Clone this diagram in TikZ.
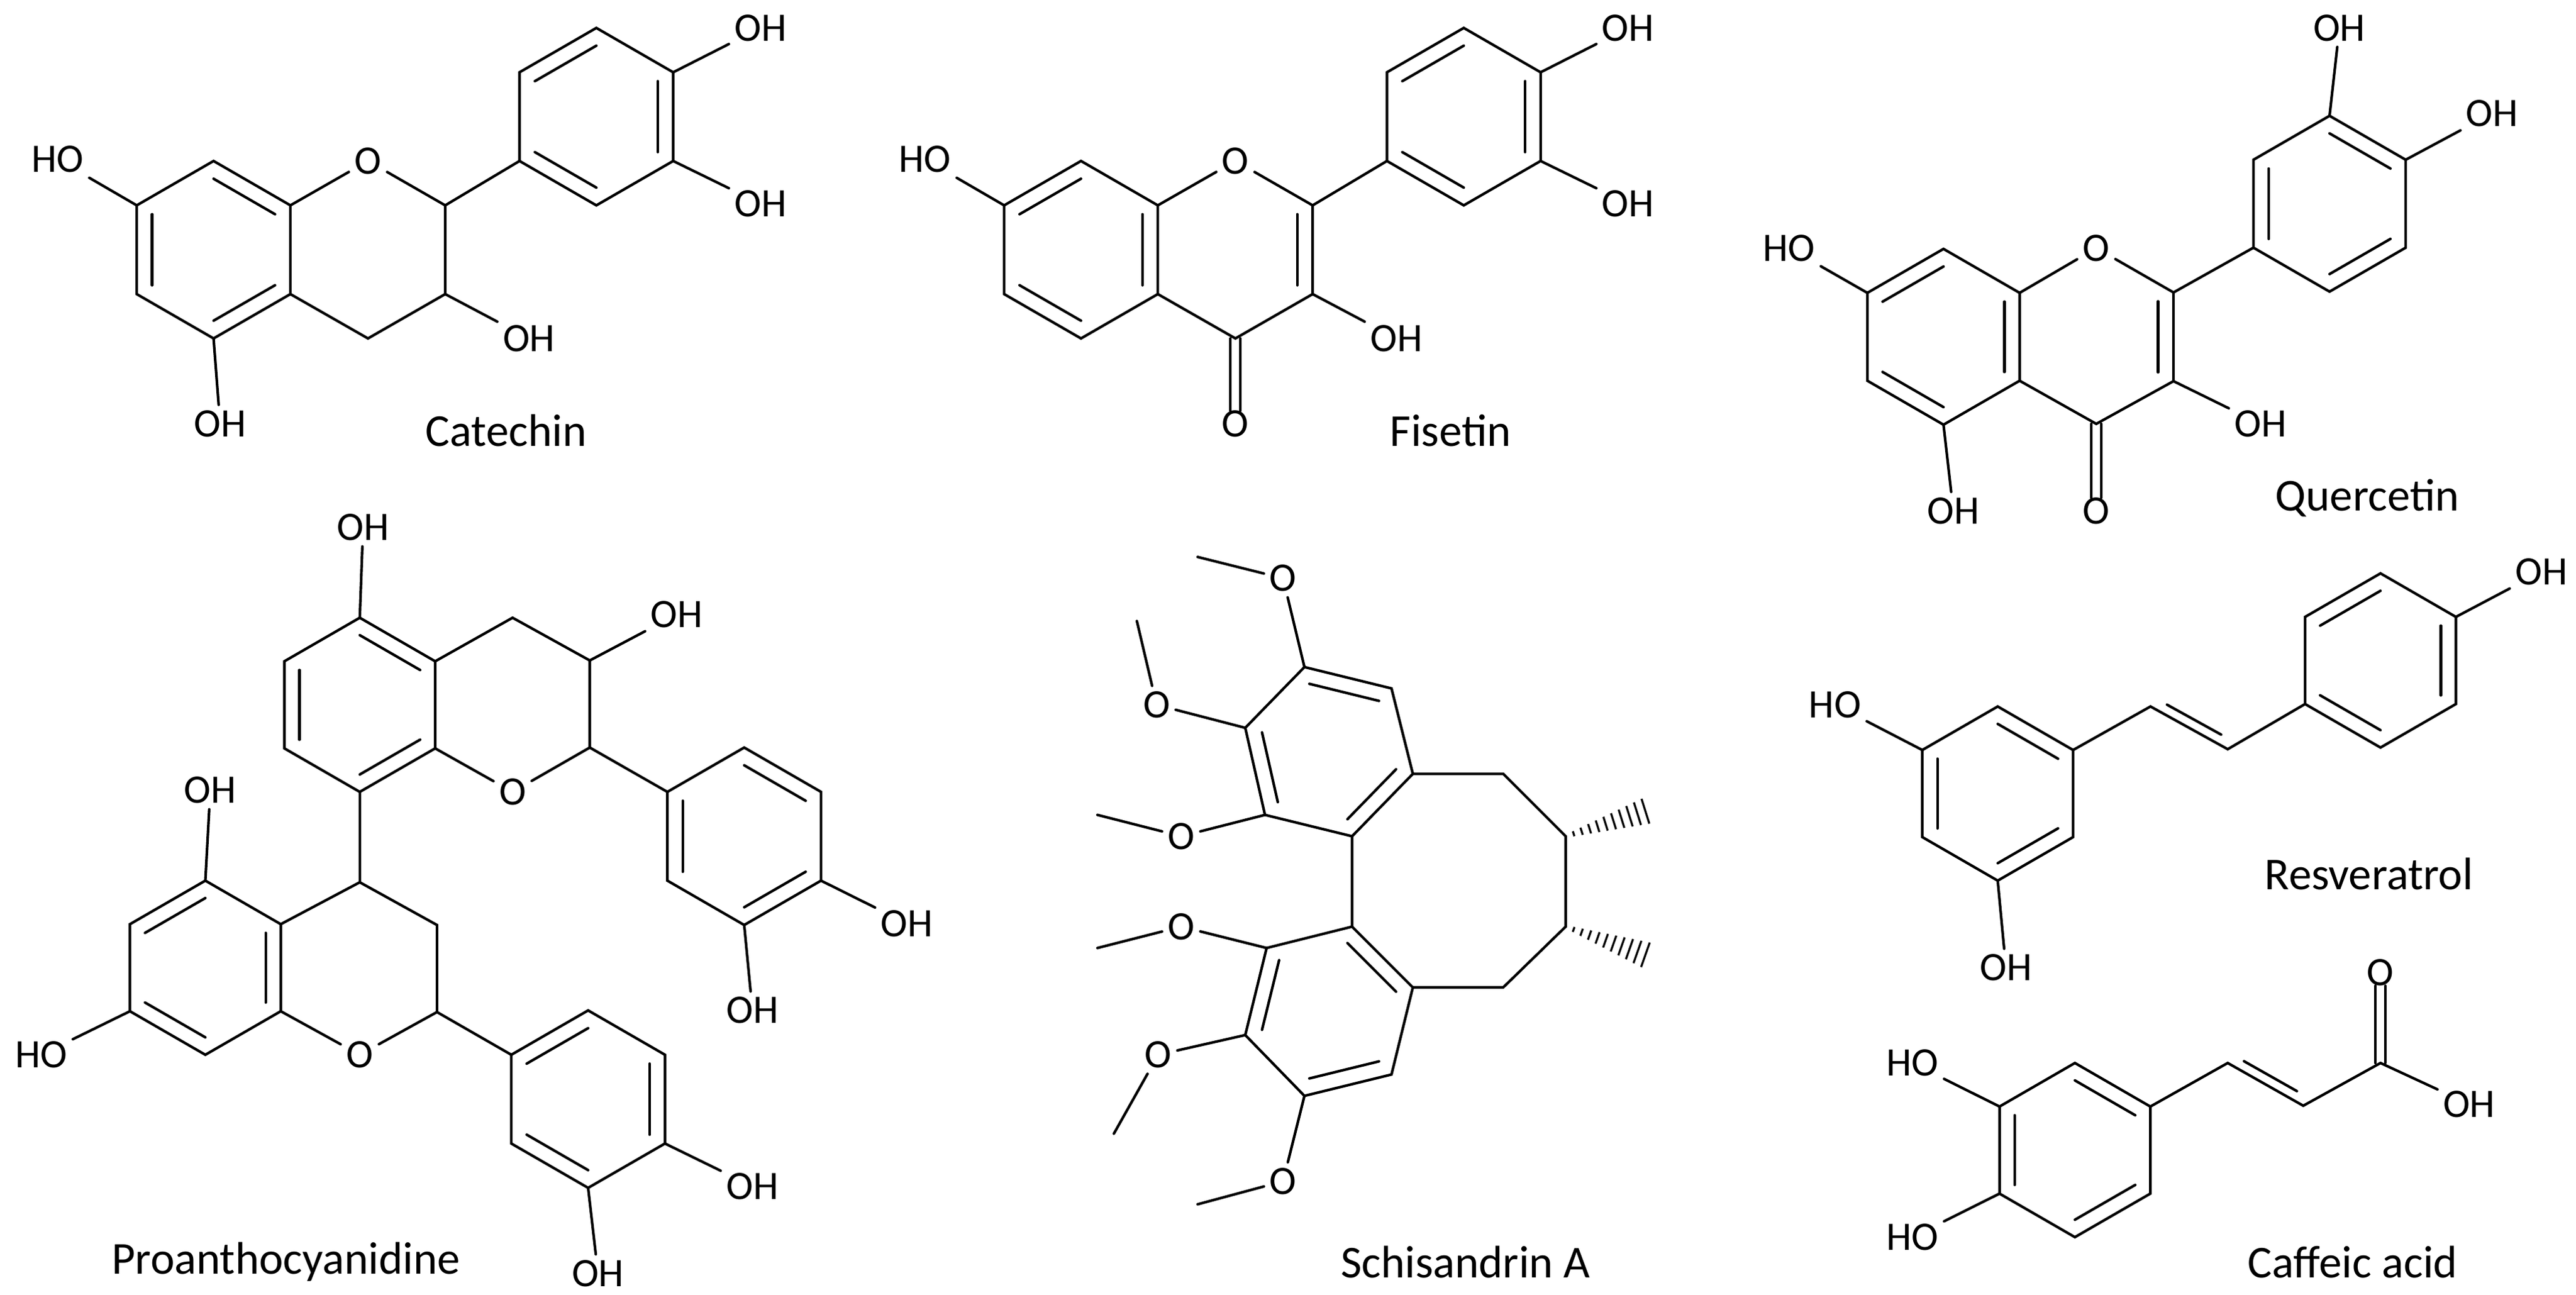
\documentclass[tikz,border=0pt]{standalone}
\usepackage{fontspec}
\setmainfont{Carlito}
\usetikzlibrary{calc}
\tikzset{bond/.style={line width=0.45pt, line cap=round},
  lab/.style={font=\fontsize{7}{8}\selectfont, inner sep=0.8pt},
  molname/.style={font=\fontsize{7.9}{9}\selectfont, inner sep=0pt}}
\newcommand\hexring[5]{\foreach \k in {1,...,6}{\coordinate (#1\k) at ($(#2,#3)+({#5+60*(\k-1)}:#4)$);}
  \coordinate (#1c) at (#2,#3);
  \draw[bond] (#11)--(#12)--(#13)--(#14)--(#15)--(#16)--cycle;}
\newcommand\db[3]{\draw[bond] ($(#1)!0.2!(#3)$) -- ($(#2)!0.2!(#3)$);}
\newcommand\hashw[2]{\foreach \i in {1,...,10}{\pgfmathsetmacro\tt{\i/10.5}\pgfmathsetmacro\ww{0.25+\i*0.2}
  \coordinate (hp) at ($(#1)!\tt!(#2)$);
  \draw[line width=0.35pt] ($(hp)!\ww pt!90:(#2)$) -- ($(hp)!\ww pt!-90:(#2)$);}}
\begin{document}
\begin{tikzpicture}[x=0.01cm,y=-0.01cm]
\useasboundingbox (0,0) rectangle (1568,788);
% ===== Catechin =====
\hexring{ca}{130}{152}{54}{-90}
\node[lab] (caO) at (224,98) {O};
\coordinate (caC2) at (271,125); \coordinate (caC3) at (271,179); \coordinate (caC4) at (224,206);
\coordinate (caRC) at (224,152);
\draw[bond] (ca2)--(caO)--(caC2)--(caC3)--(caC4)--(ca3);
\hexring{cb}{363}{71}{54}{-90}
\draw[bond] (caC2)--(cb5);
\node[lab] (caHO7) at (35,97) {HO}; \draw[bond] (ca6)--(caHO7);
\node[lab] (caOH5) at (134,258) {OH}; \draw[bond] (ca4)--(caOH5);
\node[lab] (caOH3) at (322,206) {OH}; \draw[bond] (caC3)--(caOH3);
\node[lab] (caOH4) at (463,17) {OH}; \draw[bond] (cb2)--(caOH4);
\node[lab] (caOH3b) at (463,124) {OH}; \draw[bond] (cb3)--(caOH3b);
\db{ca1}{ca2}{cac}\db{ca6}{ca5}{cac}\db{ca4}{ca3}{cac}
\db{cb6}{cb1}{cbc}\db{cb2}{cb3}{cbc}\db{cb4}{cb5}{cbc}
\node[molname] (catname) at (308,262) {Catechin};
% ===== Fisetin =====
\hexring{fa}{658}{152}{54}{-90}
\node[lab] (faO) at (752,98) {O};
\coordinate (faC2) at (799,125); \coordinate (faC3) at (799,179); \coordinate (faC4) at (752,206);
\coordinate (faRC) at (752,152);
\draw[bond] (fa2)--(faO)--(faC2)--(faC3)--(faC4)--(fa3);
\hexring{fb}{891}{71}{54}{-90}
\draw[bond] (faC2)--(fb5);
\node[lab] (faHO7) at (563,97) {HO}; \draw[bond] (fa6)--(faHO7);
\node[lab] (faOH3) at (850,206) {OH}; \draw[bond] (faC3)--(faOH3);
\node[lab] (faOH4) at (991,17) {OH}; \draw[bond] (fb2)--(faOH4);
\node[lab] (faOH3b) at (991,124) {OH}; \draw[bond] (fb3)--(faOH3b);
\node[lab] (faOk) at (752,258) {O};
\draw[bond] (749,206)--(749,250) (755,206)--(755,250);
\db{fa6}{fa1}{fac}\db{fa2}{fa3}{fac}\db{fa5}{fa4}{fac}
\db{faC2}{faC3}{faRC}
\db{fb6}{fb1}{fbc}\db{fb2}{fb3}{fbc}\db{fb4}{fb5}{fbc}
\node[molname] (fisname) at (883,262) {Fisetin};
% ===== Quercetin =====
\hexring{qa}{1183}{205}{53.5}{-90}
\node[lab] (qaO) at (1276,151) {O};
\coordinate (qaC2) at (1323,178); \coordinate (qaC3) at (1323,232); \coordinate (qaC4) at (1276,258);
\coordinate (qaRC) at (1276,205);
\draw[bond] (qa2)--(qaO)--(qaC2)--(qaC3)--(qaC4)--(qa3);
\hexring{qb}{1418}{124}{53.5}{-90}
\draw[bond] (qaC2)--(qb5);
\node[lab] (qaHO7) at (1089,151) {HO}; \draw[bond] (qa6)--(qaHO7);
\node[lab] (qaOH5) at (1189,311) {OH}; \draw[bond] (qa4)--(qaOH5);
\node[lab] (qaOH3) at (1376,258) {OH}; \draw[bond] (qaC3)--(qaOH3);
\node[lab] (qaOH3b) at (1424,17) {OH}; \draw[bond] (qb1)--(qaOH3b);
\node[lab] (qaOH4) at (1517,69) {OH}; \draw[bond] (qb2)--(qaOH4);
\node[lab] (qaOk) at (1276,311) {O};
\draw[bond] (1273,258)--(1273,303) (1279,258)--(1279,303);
\db{qa6}{qa1}{qac}\db{qa2}{qa3}{qac}\db{qa5}{qa4}{qac}
\db{qaC2}{qaC3}{qaRC}
\db{qb1}{qb2}{qbc}\db{qb6}{qb5}{qbc}\db{qb3}{qb4}{qbc}
\node[molname] (quername) at (1441,303) {Quercetin};
% ===== Proanthocyanidine =====
\hexring{pa}{219}{429}{53}{-90}
\coordinate (puC4) at (312,376); \coordinate (puC3) at (359,402); \coordinate (puC2) at (359,455);
\node[lab] (puO) at (312,482) {O};
\draw[bond] (pa2)--(puC4)--(puC3)--(puC2)--(puO)--(pa3);
\hexring{pb}{453}{509}{54}{-90}
\draw[bond] (puC2)--(pb6);
\node[lab] (puOH5) at (221,321) {OH}; \draw[bond] (pa1)--(puOH5);
\node[lab] (puOH3) at (412,374) {OH}; \draw[bond] (puC3)--(puOH3);
\node[lab] (puOH4) at (552,562) {OH}; \draw[bond] (pb3)--(puOH4);
\node[lab] (puOH3b) at (458,615) {OH}; \draw[bond] (pb4)--(puOH3b);
\db{pa1}{pa2}{pac}\db{pa6}{pa5}{pac}\db{pa3}{pa4}{pac}
\db{pb1}{pb2}{pbc}\db{pb6}{pb5}{pbc}\db{pb3}{pb4}{pbc}
\hexring{pl}{125}{589}{53}{-90}
\coordinate (plC4) at (219,537); \coordinate (plC3) at (266,563); \coordinate (plC2) at (266,616);
\node[lab] (plO) at (219,642) {O};
\draw[bond] (pl2)--(plC4)--(plC3)--(plC2)--(plO)--(pl3);
\draw[bond] (pa4)--(plC4);
\hexring{pq}{358}{669}{54}{-90}
\draw[bond] (plC2)--(pq6);
\node[lab] (plOH5) at (128,481) {OH}; \draw[bond] (pl1)--(plOH5);
\node[lab] (plHO7) at (25,642) {HO}; \draw[bond] (pl5)--(plHO7);
\node[lab] (plOH4) at (458,722) {OH}; \draw[bond] (pq3)--(plOH4);
\node[lab] (plOH3) at (364,775) {OH}; \draw[bond] (pq4)--(plOH3);
\db{pl1}{pl6}{plc}\db{pl2}{pl3}{plc}\db{pl5}{pl4}{plc}
\db{pq6}{pq1}{pqc}\db{pq2}{pq3}{pqc}\db{pq4}{pq5}{pqc}
\node[molname] (proname) at (174,768) {Proanthocyanidine};
% ===== Schisandrin A =====
\coordinate (a1) at (794,406); \coordinate (a2) at (847,419); \coordinate (a3) at (860,471);
\coordinate (a4) at (823,509); \coordinate (a5) at (770,496); \coordinate (a6) at (758,443);
\coordinate (sA) at (809,457);
\coordinate (b1) at (823,564); \coordinate (b2) at (860,601); \coordinate (b3) at (847,654);
\coordinate (b4) at (794,667); \coordinate (b5) at (758,630); \coordinate (b6) at (771,577);
\coordinate (sB) at (809,614);
\coordinate (c1) at (915,471); \coordinate (c2) at (953,509); \coordinate (c3) at (953,564); \coordinate (c4) at (915,601);
\coordinate (m1) at (1004,493); \coordinate (m2) at (1004,582);
\draw[bond] (a1)--(a2)--(a3)--(a4)--(a5)--(a6)--cycle;
\draw[bond] (b1)--(b2)--(b3)--(b4)--(b5)--(b6)--cycle;
\draw[bond] (a4)--(b1) (a3)--(c1)--(c2)--(c3)--(c4)--(b2);
\db{a1}{a2}{sA}\db{a5}{a6}{sA}\db{a3}{a4}{sA}
\db{b1}{b2}{sB}\db{b5}{b6}{sB}\db{b3}{b4}{sB}
\hashw{c2}{m1}\hashw{c3}{m2}
\node[lab] (sO1) at (781,352) {O}; \coordinate (sM1) at (729,339);
\node[lab] (sO2) at (704,429) {O}; \coordinate (sM2) at (692,378);
\node[lab] (sO3) at (719,509) {O}; \coordinate (sM3) at (668,496);
\node[lab] (sO4) at (719,564) {O}; \coordinate (sM4) at (668,577);
\node[lab] (sO5) at (705,642) {O}; \coordinate (sM5) at (678,690);
\node[lab] (sO6) at (781,719) {O}; \coordinate (sM6) at (729,733);
\draw[bond] (a1)--(sO1)--(sM1) (a6)--(sO2)--(sM2) (a5)--(sO3)--(sM3)
  (b6)--(sO4)--(sM4) (b5)--(sO5)--(sM5) (b4)--(sO6)--(sM6);
\node[molname] (schname) at (892,768) {Schisandrin A};
% ===== Resveratrol =====
\hexring{ra}{1216}{483}{53}{-90}
\coordinate (rv1) at (1309,430); \coordinate (rv2) at (1356,456);
\hexring{rb}{1449}{402}{53}{-90}
\draw[bond] (ra2)--(rv1)--(rv2)--(rb5);
\draw[bond] ($(rv1)!0.15!(rv2)+(3,-5)$) -- ($(rv2)!0.15!(rv1)+(3,-5)$);
\node[lab] (rHO) at (1117,429) {HO}; \draw[bond] (ra6)--(rHO);
\node[lab] (rOH) at (1221,589) {OH}; \draw[bond] (ra4)--(rOH);
\node[lab] (rOH4) at (1547,348) {OH}; \draw[bond] (rb2)--(rOH4);
\db{ra1}{ra2}{rac}\db{ra6}{ra5}{rac}\db{ra3}{ra4}{rac}
\db{rb6}{rb1}{rbc}\db{rb2}{rb3}{rbc}\db{rb4}{rb5}{rbc}
\node[molname] (resname) at (1442,532) {Resveratrol};
% ===== Caffeic acid =====
\hexring{cf}{1263}{700}{53}{-90}
\coordinate (w1) at (1356,647); \coordinate (w2) at (1402,673); \coordinate (w3) at (1449,647);
\draw[bond] (cf2)--(w1)--(w2)--(w3);
\draw[bond] ($(w1)!0.15!(w2)+(3,-5)$) -- ($(w2)!0.15!(w1)+(3,-5)$);
\node[lab] (cfO) at (1449,592) {O};
\draw[bond] (1446,647)--(1446,600) (1452,647)--(1452,600);
\node[lab] (cfOH) at (1503,672) {OH}; \draw[bond] (w3)--(cfOH);
\node[lab] (cfHO3) at (1164,647) {HO}; \draw[bond] (cf6)--(cfHO3);
\node[lab] (cfHO4) at (1164,753) {HO}; \draw[bond] (cf5)--(cfHO4);
\db{cf1}{cf2}{cfc}\db{cf6}{cf5}{cfc}\db{cf3}{cf4}{cfc}
\node[molname] (cafname) at (1432,768) {Caffeic acid};
\end{tikzpicture}
\end{document}
